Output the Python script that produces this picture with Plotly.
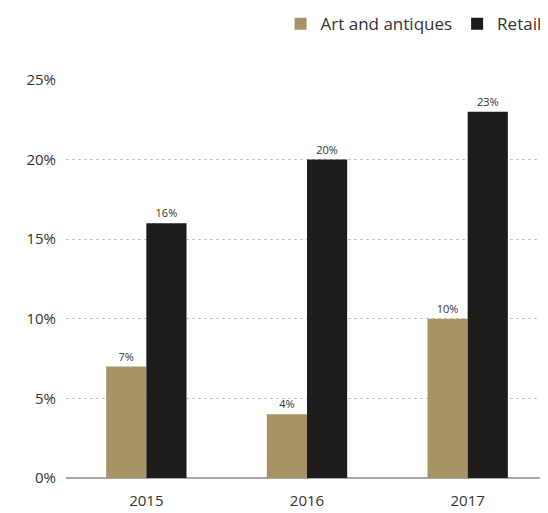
import plotly.graph_objects as go

years = ["2015", "2016", "2017"]
art_antiques = [7, 4, 10]
retail = [16, 20, 23]
y_ticks = [0, 5, 10, 15, 20, 25]
y_tick_labels = ["0%", "5%", "10%", "15%", "20%", "25%"]

font_family = "Open Sans, Noto Sans, sans-serif"

fig = go.Figure()
fig.add_trace(go.Bar(
    x=years, y=art_antiques, name="Art and antiques",
    marker=dict(color="#A69467", line=dict(width=0)),
    text=[f"{v}%" for v in art_antiques], textposition="outside",
    textfont=dict(size=11, color="#333333", family=font_family),
    cliponaxis=False,
))
fig.add_trace(go.Bar(
    x=years, y=retail, name="Retail",
    marker=dict(color="#1E1B1B", line=dict(width=0)),
    text=[f"{v}%" for v in retail], textposition="outside",
    textfont=dict(size=11, color="#333333", family=font_family),
    cliponaxis=False,
))

# page body has an 8px margin, so the figure is sized to end at the window edge
fig.update_layout(
    width=540, height=505,
    margin=dict(l=58, r=0, t=72, b=35, autoexpand=False),
    paper_bgcolor="white", plot_bgcolor="white",
    barmode="group", bargap=0.5, bargroupgap=0,
    font=dict(family=font_family, color="#333333", size=15),
    legend=dict(
        orientation="h", x=0.997, xanchor="right", xref="paper",
        y=0.968, yref="container", yanchor="middle",
        font=dict(size=17, color="#333333"),
        traceorder="normal", itemwidth=30,
        bgcolor="rgba(0,0,0,0)",
    ),
    xaxis=dict(
        showgrid=False, showline=False, ticks="",
        ticklabelstandoff=12,
        tickfont=dict(size=15, color="#333333"),
    ),
    yaxis=dict(
        range=[0, 25], tickvals=y_ticks, ticktext=y_tick_labels,
        showgrid=True, gridcolor="#C8C8C8", griddash="dot", gridwidth=1,
        zeroline=True, zerolinecolor="#A8A8A8", zerolinewidth=1.5,
        showline=False, ticks="", ticklabelstandoff=9,
        tickfont=dict(size=15, color="#333333"),
    ),
    showlegend=True,
)

fig.write_html("out.html")
